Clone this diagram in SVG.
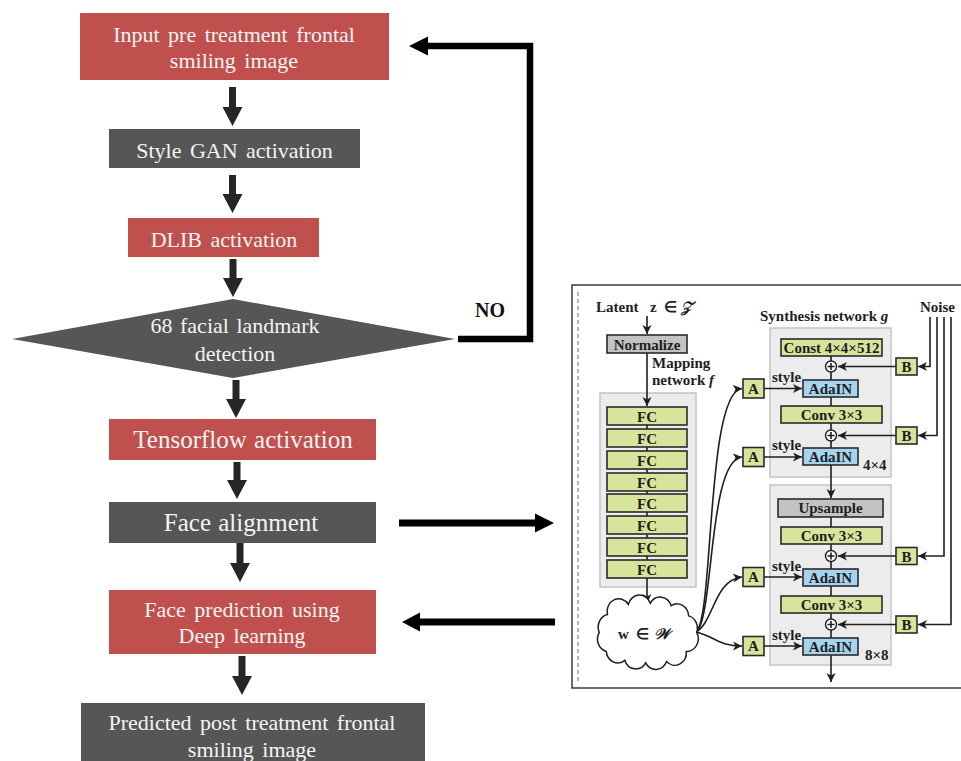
<svg xmlns="http://www.w3.org/2000/svg" width="961" height="761" viewBox="0 0 961 761">
<defs>
<style>
  .red{fill:#c0504d}
  .gray{fill:#565656}
  .lbl{font-family:"Liberation Serif","Times New Roman",serif;fill:#f4f4f4;text-anchor:middle;font-size:22px;word-spacing:3px}
  .big{font-size:25px;word-spacing:1px}
  .flow{fill:#262626}
  .loop{fill:none;stroke:#000;stroke-width:6.5}
  .frame{fill:#fff;stroke:#3a3a3a;stroke-width:1.5}
  .dash{stroke:#9a9a9a;stroke-width:1.5;stroke-dasharray:4 3}
  .stage{fill:#ececec;stroke:#c4c4c4;stroke-width:1.5}
  .blk{stroke:#2a2a2a;stroke-width:1.6}
  .lime{fill:#d8e49c}
  .blue{fill:#a6d3ee}
  .grey{fill:#c3c3c3}
  .t{font-family:"Liberation Serif","Times New Roman",serif;font-weight:bold;font-size:15px;fill:#1e1e1e}
  .c{text-anchor:middle}
  .wire{fill:none;stroke:#1e1e1e;stroke-width:1.6}
  .sum{fill:#fff;stroke:#1e1e1e;stroke-width:1.4}
</style>
<marker id="tip" markerWidth="10" markerHeight="10" refX="9" refY="4.5" orient="auto" markerUnits="userSpaceOnUse">
  <path d="M0,0 L9,4.5 L0,9 L2.5,4.5z" fill="#1e1e1e"/>
</marker>
</defs>

<rect width="961" height="761" fill="#fff"/>

<!-- flowchart connectors -->
<g id="connectors">
  <polygon class="flow" points="229,87 236,87 236,107 242.5,107 232.5,126 222.5,107 229,107"/>
  <polygon class="flow" points="229,175 236,175 236,194 242.5,194 232.5,213 222.5,194 229,194"/>
  <polygon class="flow" points="229.5,259 236.5,259 236.5,278 243,278 233,297 223,278 229.5,278"/>
  <polygon class="flow" points="232.5,380 239.5,380 239.5,399 246,399 236,418 226,399 232.5,399"/>
  <polygon class="flow" points="233.5,462 240.5,462 240.5,480 247,480 237,499 227,480 233.5,480"/>
  <polygon class="flow" points="236.5,543 243.5,543 243.5,563 250,563 240,582 230,563 236.5,563"/>
  <polygon class="flow" points="238.5,656 245.5,656 245.5,676 252,676 242,695 232,676 238.5,676"/>
  <!-- NO feedback loop -->
  <path class="loop" d="M458,339 H530 V46 H426"/>
  <polygon fill="#000" points="428,36.5 428,55.5 409,46"/>
  <text x="475" y="317" font-family="Liberation Serif,serif" font-weight="bold" font-size="20" fill="#111">NO</text>
  <!-- to and from the network -->
  <line x1="399" y1="523" x2="537" y2="523" stroke="#000" stroke-width="7"/>
  <polygon fill="#000" points="535,513.5 535,532.5 554,523"/>
  <line x1="555" y1="622" x2="418" y2="622" stroke="#000" stroke-width="7"/>
  <polygon fill="#000" points="420,612.5 420,631.5 402,622"/>
</g>

<g id="input">
  <rect class="red" x="80" y="13" width="309" height="67"/>
  <text class="lbl" x="234" y="42">Input pre treatment frontal</text>
  <text class="lbl" x="234" y="68">smiling image</text>
</g>
<g id="stylegan">
  <rect class="gray" x="109" y="129" width="251" height="39"/>
  <text class="lbl" x="234.5" y="158">Style GAN activation</text>
</g>
<g id="dlib">
  <rect class="red" x="128" y="218" width="191" height="39"/>
  <text class="lbl" x="224" y="247">DLIB activation</text>
</g>
<g id="landmarks">
  <polygon class="gray" points="12,339 233,299 455,339 233,378"/>
  <text class="lbl" x="235" y="333" style="word-spacing:2px">68 facial landmark</text>
  <text class="lbl" x="235" y="361">detection</text>
</g>
<g id="tensorflow">
  <rect class="red" x="109" y="419" width="267" height="41"/>
  <text class="lbl big" x="243" y="448">Tensorflow activation</text>
</g>
<g id="alignment">
  <rect class="gray" x="109" y="502" width="267" height="41"/>
  <text class="lbl big" x="241" y="531">Face alignment</text>
</g>
<g id="prediction">
  <rect class="red" x="109" y="590" width="267" height="64"/>
  <text class="lbl" x="242" y="617">Face prediction using</text>
  <text class="lbl" x="242" y="643">Deep learning</text>
</g>
<g id="output">
  <rect class="gray" x="81" y="703" width="344" height="70"/>
  <text class="lbl" x="252" y="730">Predicted post treatment frontal</text>
  <text class="lbl" x="252" y="757">smiling image</text>
</g>

<!-- style-based generator panel -->
<g id="generator">
  <rect class="frame" x="572" y="285" width="400" height="403"/>
  <line class="dash" x1="578" y1="292" x2="578" y2="684"/>

  <rect class="stage" x="600" y="393" width="96" height="194"/>
  <rect class="stage" x="770" y="328" width="121" height="149"/>
  <rect class="stage" x="770" y="485" width="121" height="180"/>

  <g id="inset-wires">
    <path class="wire" d="M647,316 V334" marker-end="url(#tip)"/>
    <path class="wire" d="M647,353 V406" marker-end="url(#tip)"/>
    <path class="wire" d="M647,425 V560"/>
    <path class="wire" d="M647,578 V603" marker-end="url(#tip)"/>
    <path class="wire" d="M696,632 C714,618 706,392 742,388.5" marker-end="url(#tip)"/>
    <path class="wire" d="M696,632 C714,620 708,460 742,457" marker-end="url(#tip)"/>
    <path class="wire" d="M696,632 C714,622 714,580 742,577" marker-end="url(#tip)"/>
    <path class="wire" d="M696,632 C714,636 718,646 742,646" marker-end="url(#tip)"/>
    <path class="wire" d="M764,388.5 H802" marker-end="url(#tip)"/>
    <path class="wire" d="M764,457 H802" marker-end="url(#tip)"/>
    <path class="wire" d="M764,577 H802" marker-end="url(#tip)"/>
    <path class="wire" d="M764,646 H802" marker-end="url(#tip)"/>
    <path class="wire" d="M831,356 V465"/>
    <path class="wire" d="M831,465 V498" marker-end="url(#tip)"/>
    <path class="wire" d="M831,517 V655"/>
    <path class="wire" d="M831,655 V682" marker-end="url(#tip)"/>
    <path class="wire" d="M896,366.5 H838" marker-end="url(#tip)"/>
    <path class="wire" d="M896,435.5 H838" marker-end="url(#tip)"/>
    <path class="wire" d="M896,556 H838" marker-end="url(#tip)"/>
    <path class="wire" d="M896,624.5 H838" marker-end="url(#tip)"/>
    <path class="wire" d="M930,317 V366.5 H918" marker-end="url(#tip)"/>
    <path class="wire" d="M937,317 V435.5 H918" marker-end="url(#tip)"/>
    <path class="wire" d="M944,317 V556 H918" marker-end="url(#tip)"/>
    <path class="wire" d="M951,317 V624.5 H918" marker-end="url(#tip)"/>
  </g>

  <text class="t" x="596" y="312" font-size="15.5">Latent</text>
  <text class="t" x="650" y="312" font-size="16">z</text>
  <text class="t" x="664" y="312" font-size="14" font-weight="normal">∈</text>
  <text class="t" x="681" y="312" font-size="16" font-style="italic">𝒵</text>

  <g id="normalize">
    <rect class="grey blk" x="607" y="335" width="80" height="18"/>
    <text class="t c" x="647" y="349.5">Normalize</text>
  </g>
  <text class="t" x="652" y="368" font-size="16">Mapping</text>
  <text class="t" x="652" y="385" font-size="16">network <tspan font-style="italic">f</tspan></text>

  <g id="mapping-fc">
    <rect class="lime blk" x="607" y="407" width="80" height="18"/><text class="t c" x="647" y="421.5">FC</text>
    <rect class="lime blk" x="607" y="429" width="80" height="18"/><text class="t c" x="647" y="443.5">FC</text>
    <rect class="lime blk" x="607" y="451" width="80" height="18"/><text class="t c" x="647" y="465.5">FC</text>
    <rect class="lime blk" x="607" y="473" width="80" height="18"/><text class="t c" x="647" y="487.5">FC</text>
    <rect class="lime blk" x="607" y="494" width="80" height="18"/><text class="t c" x="647" y="508.5">FC</text>
    <rect class="lime blk" x="607" y="516" width="80" height="18"/><text class="t c" x="647" y="530.5">FC</text>
    <rect class="lime blk" x="607" y="538" width="80" height="18"/><text class="t c" x="647" y="552.5">FC</text>
    <rect class="lime blk" x="607" y="560" width="80" height="18"/><text class="t c" x="647" y="574.5">FC</text>
  </g>

  <g id="latent-w">
    <path fill="#fff" stroke="#1e1e1e" stroke-width="1.5" vector-effect="non-scaling-stroke" transform="translate(648,633) scale(1.16,1.27) translate(-648,-632.5)" d="M690,632 A10,10 0 0 1 681,647 A10,10 0 0 1 664,655 A10,10 0 0 1 646,656 A10,10 0 0 1 628,654 A10,10 0 0 1 612,647 A10,10 0 0 1 606,632 A10,10 0 0 1 613,618 A10,10 0 0 1 631,610 A10,10 0 0 1 650,609 A10,10 0 0 1 668,611 A10,10 0 0 1 683,619 A10,10 0 0 1 690,632z"/>
    <text class="t" x="618" y="639" font-size="18">w</text>
    <text class="t" x="636" y="639" font-size="16" font-weight="normal">∈</text>
    <text class="t" x="654" y="639" font-size="19" font-style="italic">𝒲</text>
  </g>

  <text class="t" x="760" y="321" font-size="16.5">Synthesis network <tspan font-style="italic">g</tspan></text>
  <text class="t" x="920" y="312" font-size="17">Noise</text>

  <g id="synthesis-4x4">
    <rect class="lime blk" x="781" y="339" width="101" height="17"/><text class="t c" x="831.5" y="353" font-size="14">Const 4×4×512</text>
    <circle class="sum" cx="831" cy="366.5" r="5.5"/><path class="wire" d="M827.5,366.5 H834.5 M831,363 V370"/>
    <rect class="blue blk" x="803" y="380" width="55" height="17"/><text class="t c" x="830.5" y="394">AdaIN</text>
    <rect class="lime blk" x="781" y="406" width="101" height="17"/><text class="t c" x="831.5" y="420">Conv 3×3</text>
    <circle class="sum" cx="831" cy="435.5" r="5.5"/><path class="wire" d="M827.5,435.5 H834.5 M831,432 V439"/>
    <rect class="blue blk" x="803" y="448" width="55" height="17"/><text class="t c" x="830.5" y="462">AdaIN</text>
    <text class="t" x="863" y="470">4×4</text>
  </g>
  <g id="synthesis-8x8">
    <rect class="grey blk" x="778" y="499" width="105" height="18"/><text class="t c" x="830.5" y="513">Upsample</text>
    <rect class="lime blk" x="781" y="527" width="101" height="17"/><text class="t c" x="831.5" y="541">Conv 3×3</text>
    <circle class="sum" cx="831" cy="556" r="5.5"/><path class="wire" d="M827.5,556 H834.5 M831,552.5 V559.5"/>
    <rect class="blue blk" x="803" y="569" width="55" height="17"/><text class="t c" x="830.5" y="583">AdaIN</text>
    <rect class="lime blk" x="781" y="596" width="101" height="17"/><text class="t c" x="831.5" y="610">Conv 3×3</text>
    <circle class="sum" cx="831" cy="624.5" r="5.5"/><path class="wire" d="M827.5,624.5 H834.5 M831,621 V628"/>
    <rect class="blue blk" x="803" y="638" width="55" height="17"/><text class="t c" x="830.5" y="652">AdaIN</text>
    <text class="t" x="865" y="660">8×8</text>
  </g>

  <g id="styles">
    <rect class="lime blk" x="743" y="379" width="21" height="19"/><text class="t c" x="753.5" y="393.5">A</text>
    <rect class="lime blk" x="743" y="447.5" width="21" height="19"/><text class="t c" x="753.5" y="462">A</text>
    <rect class="lime blk" x="743" y="567.5" width="21" height="19"/><text class="t c" x="753.5" y="582">A</text>
    <rect class="lime blk" x="743" y="636.5" width="21" height="19"/><text class="t c" x="753.5" y="651">A</text>
    <text class="t" x="772" y="382" font-size="13.5">style</text>
    <text class="t" x="772" y="450" font-size="13.5">style</text>
    <text class="t" x="772" y="571" font-size="13.5">style</text>
    <text class="t" x="772" y="640" font-size="13.5">style</text>
  </g>
  <g id="noise-scales">
    <rect class="lime blk" x="896" y="358" width="21" height="17"/><text class="t c" x="906.5" y="372">B</text>
    <rect class="lime blk" x="896" y="427" width="21" height="17"/><text class="t c" x="906.5" y="441">B</text>
    <rect class="lime blk" x="896" y="547.5" width="21" height="17"/><text class="t c" x="906.5" y="561.5">B</text>
    <rect class="lime blk" x="896" y="616" width="21" height="17"/><text class="t c" x="906.5" y="630">B</text>
  </g>
</g>
</svg>
